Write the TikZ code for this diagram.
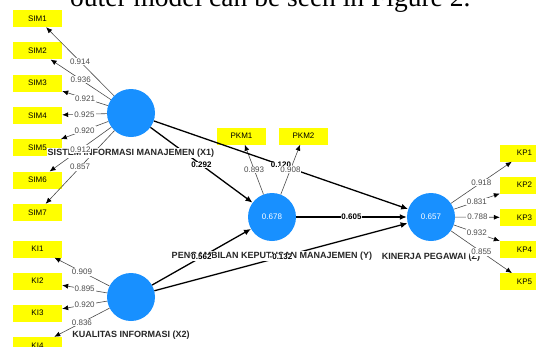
\documentclass[tikz,border=0pt]{standalone}
\usepackage{fontspec}
\setmainfont{Liberation Sans}
\newfontfamily\serifdoc{Liberation Serif}
\usetikzlibrary{arrows.meta}
\definecolor{lvblue}{RGB}{24,144,255}
\definecolor{indyellow}{RGB}{255,255,0}
\definecolor{loadgray}{RGB}{75,75,75}
\begin{document}
\begin{tikzpicture}[x=1pt,y=-1pt,
  lv/.style={circle,fill=lvblue,minimum size=48pt,inner sep=0pt,text=white,font=\fontsize{8}{9}\selectfont},
  ind/.style={rectangle,fill=indyellow,minimum width=49pt,minimum height=17pt,inner sep=0pt,font=\fontsize{8}{9}\selectfont},
  lvname/.style={fill=white,inner sep=0.8pt,text=black!85,font=\bfseries\fontsize{9}{10}\selectfont},
  loadline/.style={draw=loadgray,line width=0.6pt,-{Latex[length=6pt,width=5pt,black]}},
  pathline/.style={draw=black,line width=1.3pt,-{Latex[length=7pt,width=6pt]}},
  load/.style={fill=white,inner sep=1pt,text=loadgray,font=\fontsize{8}{9}\selectfont},
  coef/.style={fill=white,inner sep=0.6pt,text=black,font=\bfseries\fontsize{8}{9}\selectfont},
]
\useasboundingbox[fill=white] (0,0) rectangle (536,346);

% top text of the page (cut off)
\node[anchor=base west,inner sep=0pt,font=\serifdoc\fontsize{27.5}{30}\selectfont] (toptext) at (70,6.5) {outer model can be seen in Figure 2.};

% latent variables
\node[lv] (X1) at (131,113) {};
\node[lv] (X2) at (131,297) {};
\node[lv] (Y) at (272,217) {0.678};
\node[lv] (Z) at (431,217) {0.657};

% indicators
\foreach \i/\yy in {1/18.5,2/50.8,3/83.2,4/115.5,5/147.8,6/180.2,7/212.5}
  \node[ind] (SIM\i) at (37.5,\yy) {SIM\i};
\foreach \i/\yy in {1/249,2/281,3/313,4/345.5}
  \node[ind] (KI\i) at (37.5,\yy) {KI\i};
\node[ind] (PKM1) at (241.5,136) {PKM1};
\node[ind] (PKM2) at (303.5,136) {PKM2};
\foreach \i/\yy in {1/153,2/185.2,3/217.4,4/249.6,5/281.8}
  \node[ind] (KP\i) at (524.5,\yy) {KP\i};

% loading lines
\foreach \i in {1,...,7}
  \draw[loadline] (X1) -- coordinate[midway] (mSIM\i) (SIM\i);
\foreach \i in {1,...,4}
  \draw[loadline] (X2) -- coordinate[midway] (mKI\i) (KI\i);
\foreach \i in {1,2}
  \draw[loadline] (Y) -- coordinate[midway] (mPKM\i) (PKM\i);
\foreach \i in {1,...,5}
  \draw[loadline] (Z) -- coordinate[midway] (mKP\i) (KP\i);

% structural paths
\draw[pathline] (X1) -- coordinate[midway] (pX1Y) (Y);
\draw[pathline] (X1) -- coordinate[midway] (pX1Z) (Z);
\draw[pathline] (X2) -- coordinate[midway] (pX2Y) (Y);
\draw[pathline] (X2) -- coordinate[midway] (pX2Z) (Z);
\draw[pathline] (Y) -- coordinate[midway] (pYZ) (Z);

% construct names
\node[lvname] (nX1) at (131,153) {SISTEM INFORMASI MANAJEMEN (X1)};
\node[lvname] (nX2) at (131,335) {KUALITAS INFORMASI (X2)};
\node[lvname] (nY) at (272,256) {PENGAMBILAN KEPUTUSAN MANAJEMEN (Y)};
\node[lvname] (nZ) at (431,257) {KINERJA PEGAWAI (Z)};

% path coefficients
\node[coef] at (pX1Y) {0.292};
\node[coef] at (pX1Z) {0.120};
\node[coef] at (pX2Y) {0.562};
\node[coef] at (pX2Z) {-0.132};
\node[coef] at (pYZ) {0.605};

% loadings
\foreach \i/\v in {1/0.914,2/0.936,3/0.921,4/0.925,5/0.920,6/0.912,7/0.857}
  \node[load] at (mSIM\i) {\v};
\foreach \i/\v in {1/0.909,2/0.895,3/0.920,4/0.836}
  \node[load] at (mKI\i) {\v};
\foreach \i/\v in {1/0.893,2/0.908}
  \node[load] at (mPKM\i) {\v};
\foreach \i/\v in {1/0.918,2/0.831,3/0.788,4/0.932,5/0.855}
  \node[load] at (mKP\i) {\v};
\end{tikzpicture}
\end{document}
